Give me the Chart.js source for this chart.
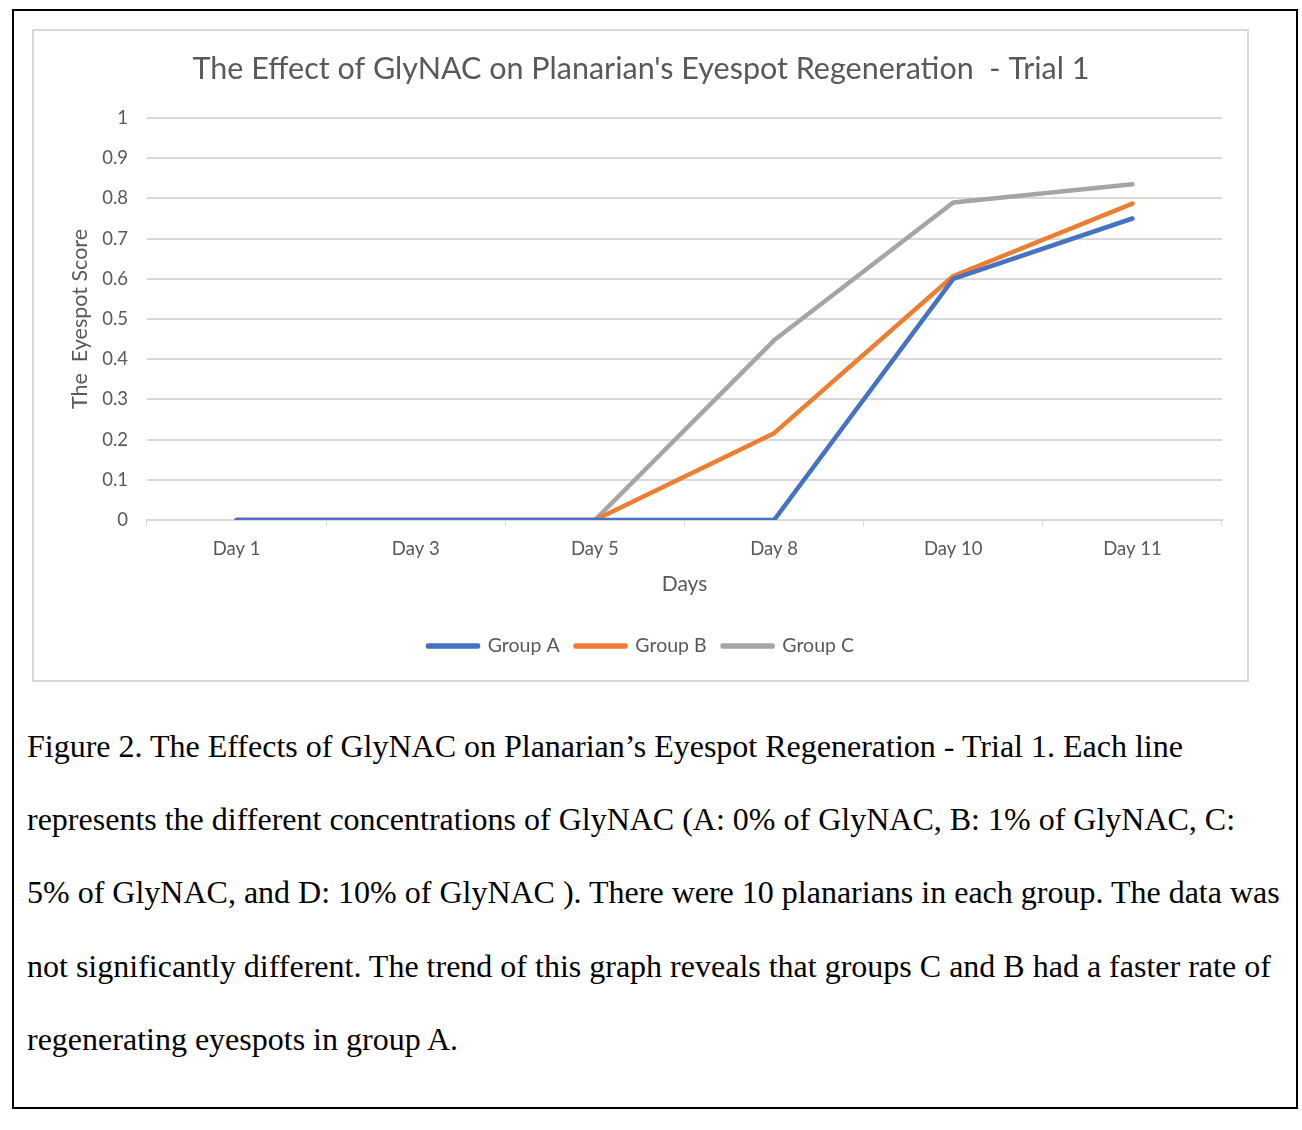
<!DOCTYPE html>
<html lang="en">
<head>
    <meta charset="UTF-8">
    <title>GlyNAC Eyespot Regeneration - Trial 1</title>
    <script src="https://cdn.jsdelivr.net/npm/chart.js"></script>
    <style>
        body {
            margin: 0;
            padding: 0;
            background: #fff;
            width: 1302px;
            height: 1130px;
            position: relative;
        }
        .frame {
            position: absolute;
            left: 12px;
            top: 9px;
            width: 1286px;
            height: 1100px;
            border: 2px solid #000;
            box-sizing: border-box;
        }
        .chart-box {
            position: absolute;
            left: 32px;
            top: 29px;
            width: 1217px;
            height: 653px;
            border: 2px solid #d9d9d9;
            box-sizing: border-box;
        }
        .caption {
            position: absolute;
            left: 27px;
            top: 710px;
            margin: 0;
            font-family: "Liberation Serif", "Times New Roman", serif;
            font-size: 32px;
            line-height: 73.2px;
            color: #000;
            white-space: nowrap;
        }
    </style>
</head>
<body>
    <div class="frame"></div>
    <div class="chart-box">
        <canvas id="eyespotChart" width="1213" height="649"></canvas>
    </div>
    <p class="caption">
        Figure 2. The Effects of GlyNAC on Planarian’s Eyespot Regeneration - Trial 1. Each line<br>
        represents the different concentrations of GlyNAC (A: 0% of GlyNAC, B: 1% of GlyNAC, C:<br>
        5% of GlyNAC, and D: 10% of GlyNAC ). There were 10 planarians in each group. The data was<br>
        not significantly different. The trend of this graph reveals that groups C and B had a faster rate of<br>
        regenerating eyespots in group A.
    </p>

    <script>
        // values
        const days = ['Day 1', 'Day 3', 'Day 5', 'Day 8', 'Day 10', 'Day 11'];
        const groupA = [0, 0, 0, 0, 0.6, 0.75];
        const groupB = [0, 0, 0, 0.216, 0.607, 0.787];
        const groupC = [0, 0, 0, 0.447, 0.79, 0.835];
        const yMin = 0;
        const yMax = 1;
        const yStep = 0.1;

        const textColor = '#595959';
        const gridColor = '#d9d9d9';
        Chart.defaults.font.family = 'Lato, "Open Sans", sans-serif';
        Chart.defaults.color = textColor;

        function line(label, data, color) {
            return {
                label: label,
                data: data,
                borderColor: color,
                backgroundColor: color,
                borderWidth: 4.5,
                borderCapStyle: 'round',
                borderJoinStyle: 'round',
                pointRadius: 0,
                tension: 0
            };
        }

        const ctx = document.getElementById('eyespotChart').getContext('2d');
        new Chart(ctx, {
            type: 'line',
            data: {
                labels: days,
                datasets: [
                    line('Group A', groupA, '#4472c4'),
                    line('Group B', groupB, '#ed7d31'),
                    line('Group C', groupC, '#a5a5a5')
                ]
            },
            options: {
                responsive: false,
                animation: false,
                layout: {
                    // left padding keeps title and legend centred on the box
                    padding: { left: 26, right: 25, top: 0, bottom: 14.25 }
                },
                plugins: {
                    title: {
                        display: true,
                        text: "The Effect of GlyNAC on Planarian's Eyespot Regeneration  - Trial 1",
                        color: textColor,
                        font: { size: 30.5, weight: 'normal' },
                        padding: { top: 19.7, bottom: 30.7 }
                    },
                    legend: {
                        position: 'bottom',
                        labels: {
                            boxWidth: 50,
                            boxHeight: 1,
                            padding: 16,
                            color: textColor,
                            font: { size: 19.5 }
                        }
                    },
                    tooltip: { enabled: false }
                },
                scales: {
                    x: {
                        offset: true,
                        grid: {
                            offset: true,
                            drawOnChartArea: false,
                            color: gridColor,
                            tickLength: 6
                        },
                        border: { display: true, color: gridColor, width: 2 },
                        ticks: { padding: 12, font: { size: 18.5 }, color: textColor, maxRotation: 0 },
                        title: {
                            display: true,
                            text: 'Days',
                            color: textColor,
                            font: { size: 21 },
                            padding: { top: 0, bottom: 23.6 }
                        },
                        afterFit: function (scale) { scale.height = 100.25; }
                    },
                    y: {
                        min: yMin,
                        max: yMax,
                        grid: { color: gridColor, lineWidth: 2, drawTicks: false },
                        border: { display: false },
                        ticks: {
                            stepSize: yStep,
                            padding: 19,
                            font: { size: 18.5 },
                            color: textColor,
                            callback: function (v) { return +v.toFixed(1); }
                        },
                        title: {
                            display: true,
                            text: 'The  Eyespot Score',
                            color: textColor,
                            font: { size: 21.5 },
                            padding: { top: 7, bottom: 0 }
                        },
                        afterFit: function (scale) { scale.width = 87; }
                    }
                }
            }
        });
    </script>
</body>
</html>
